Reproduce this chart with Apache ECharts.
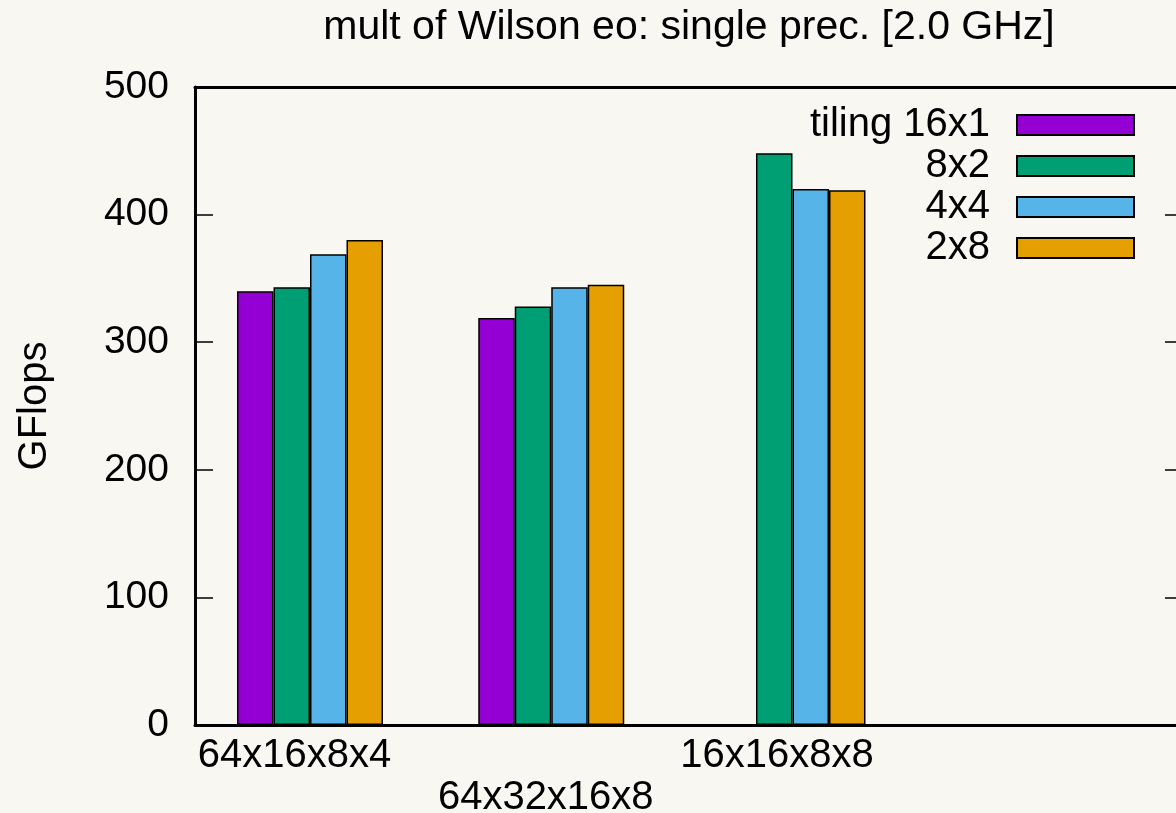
<!DOCTYPE html>
<html><head><meta charset="utf-8">
<script src="https://cdn.jsdelivr.net/npm/echarts@6/dist/echarts.min.js"></script>
<style>html,body{margin:0;padding:0;background:#f8f7f1;overflow:hidden}#c{width:1176px;height:813px}</style>
</head><body><div id="c"></div>
<script>
const categories = ['64x16x8x4', '64x32x16x8', '16x16x8x8'];
const seriesNames = ['tiling 16x1', '8x2', '4x4', '2x8'];
const tiling16x1 = [340, 319, null];
const tiling8x2 = [343, 328, 448];
const tiling4x4 = [369, 343, 420];
const tiling2x8 = [380, 345, 419];
const yTicks = [0, 100, 200, 300, 400, 500];
const titleText = 'mult of Wilson eo: single prec. [2.0 GHz]';
const yName = 'GFlops';

const colors = ['#9400d3', '#009e73', '#56b4e9', '#e69f00'];
const FONT = "'Liberation Sans', Arial, sans-serif";
const seriesValues = [tiling16x1, tiling8x2, tiling4x4, tiling2x8];

const chart = echarts.init(document.getElementById('c'), null, {renderer: 'canvas'});
const lineStyle = {color: '#000', width: 3};

const option = {
  backgroundColor: '#f8f7f1',
  animation: false,
  textStyle: {fontFamily: FONT, color: '#000'},
  title: {
    text: titleText, left: 689, top: 7, textAlign: 'center', padding: 0,
    textStyle: {fontFamily: FONT, fontSize: 41, fontWeight: 'normal', color: '#000', lineHeight: 41}
  },
  legend: {
    orient: 'vertical', align: 'right', right: 41, top: 105, padding: 0,
    itemWidth: 117, itemHeight: 20, itemGap: 1, icon: 'rect',
    data: seriesNames,
    textStyle: {fontFamily: FONT, fontSize: 40, color: '#000', lineHeight: 40, padding: [0, 22, 0, 0]}
  },
  grid: {left: 195, top: 87, width: 988, height: 638, containLabel: false, outerBoundsMode: 'none'},
  xAxis: [{
    type: 'value', min: -0.4767, max: 3.6187, position: 'bottom',
    splitLine: {show: false},
    axisLine: {show: true, onZero: false, lineStyle: lineStyle},
    axisTick: {show: false},
    axisLabel: {
      show: true, margin: 11,
      customValues: categories.map((c, i) => i),
      formatter: function (v) {
        const i = Math.round(v);
        return i % 2 === 1 ? '{b|' + categories[i] + '}' : '{a|' + categories[i] + '}';
      },
      rich: {
        a: {fontFamily: FONT, fontSize: 40, lineHeight: 40, color: '#000', padding: [0, 31, 0, 0]},
        b: {fontFamily: FONT, fontSize: 40, lineHeight: 40, color: '#000', padding: [84, 11, 0, 0]}
      }
    }
  }, {
    type: 'value', min: -0.4767, max: 3.6187, position: 'top',
    splitLine: {show: false},
    axisLine: {show: true, onZero: false, lineStyle: lineStyle},
    axisTick: {show: false}, axisLabel: {show: false}
  }],
  yAxis: [{
    type: 'value', min: yTicks[0], max: yTicks[yTicks.length - 1], interval: yTicks[1] - yTicks[0],
    position: 'left',
    name: yName, nameLocation: 'middle', nameGap: 140, nameRotate: 90,
    nameTextStyle: {fontFamily: FONT, fontSize: 40, color: '#000', lineHeight: 40},
    splitLine: {show: false},
    axisLine: {show: true, onZero: false, lineStyle: lineStyle},
    axisTick: {show: true, inside: true, length: 18, lineStyle: {color: '#000', width: 1.5}},
    axisLabel: {fontFamily: FONT, fontSize: 39, color: '#000', margin: 26}
  }, {
    type: 'value', min: yTicks[0], max: yTicks[yTicks.length - 1], interval: yTicks[1] - yTicks[0],
    position: 'right',
    splitLine: {show: false},
    axisLine: {show: true, onZero: false, lineStyle: lineStyle},
    axisTick: {show: true, inside: true, length: 18, lineStyle: {color: '#000', width: 1.5}},
    axisLabel: {show: false}
  }],
  series: seriesNames.map((name, k) => ({
    name: name, type: 'bar', xAxisIndex: 0, yAxisIndex: 0,
    barWidth: 36.5, barGap: '0%',
    itemStyle: {color: colors[k], borderColor: '#000', borderWidth: 1.5},
    data: seriesValues[k].map((v, i) => [i, v == null ? '-' : v])
  }))
};
chart.setOption(option);
</script>
</body></html>
